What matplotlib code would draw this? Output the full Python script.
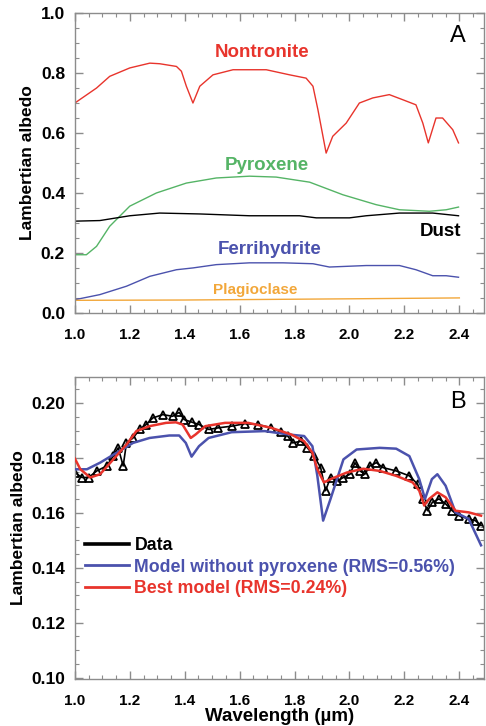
import matplotlib
matplotlib.use("Agg")
import matplotlib.pyplot as plt
from matplotlib.lines import Line2D
from matplotlib.ticker import MultipleLocator, FormatStrFormatter

plt.rcParams['font.family'] = ['Liberation Sans', 'DejaVu Sans']

# ---------------- Panel A: end-member spectra ----------------
nontronite_x = [1.0, 1.079, 1.127, 1.2, 1.273, 1.309, 1.37, 1.388, 1.406, 1.43, 1.455,
                1.503, 1.576, 1.697, 1.782, 1.842, 1.867, 1.885, 1.915, 1.939, 1.988,
                2.036, 2.085, 2.145, 2.194, 2.242, 2.267, 2.287, 2.315, 2.339, 2.376, 2.397]
nontronite_y = [0.70, 0.75, 0.789, 0.817, 0.833, 0.831, 0.822, 0.806, 0.756, 0.70, 0.756,
                0.794, 0.811, 0.811, 0.794, 0.783, 0.756, 0.678, 0.533, 0.589, 0.633,
                0.70, 0.717, 0.728, 0.711, 0.694, 0.633, 0.567, 0.65, 0.65, 0.611, 0.567]

pyroxene_x = [1.0, 1.042, 1.079, 1.127, 1.2, 1.297, 1.406, 1.515, 1.636, 1.733, 1.855,
              1.976, 2.097, 2.182, 2.291, 2.352, 2.397]
pyroxene_y = [0.194, 0.194, 0.222, 0.289, 0.356, 0.40, 0.433, 0.45, 0.456, 0.453, 0.436,
              0.394, 0.361, 0.344, 0.339, 0.344, 0.353]

dust_x = [1.0, 1.091, 1.2, 1.309, 1.455, 1.636, 1.818, 1.879, 2.0, 2.061, 2.182, 2.303, 2.397]
dust_y = [0.306, 0.308, 0.324, 0.333, 0.330, 0.324, 0.324, 0.317, 0.317, 0.324, 0.333, 0.333, 0.324]

ferri_x = [1.0, 1.091, 1.188, 1.273, 1.37, 1.43, 1.515, 1.636, 1.758, 1.867, 1.927,
           2.061, 2.182, 2.242, 2.303, 2.352, 2.397]
ferri_y = [0.044, 0.061, 0.089, 0.122, 0.144, 0.15, 0.161, 0.167, 0.167, 0.164, 0.153,
           0.158, 0.158, 0.144, 0.124, 0.124, 0.119]

plag_x = [1.0, 1.4, 1.7, 2.0, 2.4]
plag_y = [0.042, 0.043, 0.045, 0.047, 0.050]

# ---------------- Panel B: data and models ----------------
data_x = [1.0, 1.026, 1.05, 1.08, 1.116, 1.14, 1.158, 1.176, 1.188, 1.212, 1.236, 1.26,
          1.284, 1.32, 1.356, 1.38, 1.398, 1.428, 1.452, 1.488, 1.523, 1.571, 1.619,
          1.667, 1.715, 1.751, 1.775, 1.793, 1.823, 1.847, 1.871, 1.895, 1.913, 1.931,
          1.955, 1.978, 2.002, 2.02, 2.038, 2.056, 2.074, 2.098, 2.122, 2.17, 2.218,
          2.248, 2.266, 2.284, 2.302, 2.326, 2.35, 2.374, 2.398, 2.434, 2.458, 2.479]
data_y = [0.1747, 0.1729, 0.1729, 0.1753, 0.1771, 0.1807, 0.1837, 0.1771, 0.1855, 0.1873,
          0.1904, 0.1922, 0.1946, 0.1958, 0.1952, 0.1966, 0.1940, 0.1930, 0.1922, 0.1904,
          0.1910, 0.1916, 0.1925, 0.1922, 0.1910, 0.1894, 0.1880, 0.1855, 0.1861, 0.1837,
          0.1807, 0.1765, 0.1681, 0.1729, 0.1717, 0.1729, 0.1741, 0.1783, 0.1753, 0.1741,
          0.1771, 0.1783, 0.1765, 0.1753, 0.1735, 0.1705, 0.1651, 0.1608, 0.1639, 0.1651,
          0.1633, 0.1608, 0.1590, 0.1578, 0.1572, 0.1554]

nopyx_x = [1.0, 1.044, 1.092, 1.152, 1.212, 1.272, 1.344, 1.38, 1.404, 1.425, 1.452,
           1.487, 1.571, 1.691, 1.775, 1.835, 1.865, 1.883, 1.904, 1.931, 1.978, 1.99,
           2.026, 2.11, 2.17, 2.218, 2.254, 2.275, 2.30, 2.32, 2.35, 2.386, 2.434, 2.479]
nopyx_y = [0.1759, 0.1759, 0.1783, 0.1819, 0.1855, 0.1873, 0.1882, 0.1882, 0.1855, 0.1805,
           0.1843, 0.1873, 0.1894, 0.1898, 0.1886, 0.1880, 0.1843, 0.1735, 0.1572, 0.1651,
           0.1795, 0.1804, 0.1831, 0.1837, 0.1834, 0.1807, 0.1723, 0.1651, 0.1723, 0.1741,
           0.1699, 0.1602, 0.1578, 0.1482]

best_x = [1.0, 1.02, 1.056, 1.092, 1.14, 1.188, 1.224, 1.272, 1.332, 1.368, 1.392, 1.422,
          1.44, 1.475, 1.547, 1.631, 1.715, 1.787, 1.835, 1.865, 1.883, 1.907, 1.931,
          1.99, 2.05, 2.11, 2.17, 2.23, 2.254, 2.272, 2.29, 2.32, 2.35, 2.386, 2.434, 2.479]
best_y = [0.1798, 0.1759, 0.1729, 0.1741, 0.1795, 0.1849, 0.1898, 0.1916, 0.1928, 0.1930,
          0.1922, 0.1873, 0.1886, 0.1916, 0.1928, 0.1928, 0.1910, 0.1886, 0.1861, 0.1819,
          0.1759, 0.1711, 0.1723, 0.1747, 0.1761, 0.1753, 0.1735, 0.1711, 0.1681, 0.1627,
          0.1651, 0.1675, 0.1657, 0.1608, 0.1602, 0.1590]

legend_labels = ['Data', 'Model without pyroxene (RMS=0.56%)', 'Best model (RMS=0.24%)']

RED = '#e8342c'
GREEN = '#55b466'
BLUE = '#4b52ad'
ORANGE = '#f2a73a'
SPINE = '#8c8c8c'


def style_axes(ax, ymajor, yminor, yfmt):
    for s in ax.spines.values():
        s.set_color(SPINE)
        s.set_linewidth(1.0)
    ax.xaxis.set_major_locator(MultipleLocator(0.2))
    ax.xaxis.set_minor_locator(MultipleLocator(0.05))
    ax.yaxis.set_major_locator(MultipleLocator(ymajor))
    ax.yaxis.set_minor_locator(MultipleLocator(yminor))
    ax.xaxis.set_major_formatter(FormatStrFormatter('%.1f'))
    ax.yaxis.set_major_formatter(FormatStrFormatter(yfmt))
    ax.tick_params(which='both', direction='in', top=True, right=True, color=SPINE)
    ax.tick_params(which='major', length=6, width=1)
    ax.tick_params(which='minor', length=3, width=0.8)
    ax.tick_params(axis='y', labelsize=12.5, pad=7)
    ax.tick_params(axis='x', labelsize=11, pad=11)
    for lab in ax.get_xticklabels() + ax.get_yticklabels():
        lab.set_fontweight('bold')
    ax.set_ylabel('Lambertian albedo', fontsize=12.5, fontweight='bold')


fig = plt.figure(figsize=(4.86, 7.26), dpi=100)
axA = fig.add_axes([0.154, 0.569, 0.842, 0.413])
axB = fig.add_axes([0.154, 0.0647, 0.842, 0.416])

# Panel A
axA.plot(nontronite_x, nontronite_y, color=RED, lw=1.0)
axA.plot(pyroxene_x, pyroxene_y, color=GREEN, lw=1.0)
axA.plot(dust_x, dust_y, color='black', lw=1.0)
axA.plot(ferri_x, ferri_y, color=BLUE, lw=1.0)
axA.plot(plag_x, plag_y, color=ORANGE, lw=1.0)
axA.set_xlim(1.0, 2.49)
axA.set_ylim(0.0, 1.0)
style_axes(axA, 0.2, 0.05, '%.1f')
axA.text(1.68, 0.87, 'Nontronite', color=RED, fontsize=13.5, fontweight='bold', ha='center', va='center')
axA.text(1.70, 0.49, 'Pyroxene', color=GREEN, fontsize=13.5, fontweight='bold', ha='center', va='center')
axA.text(2.33, 0.27, 'Dust', color='black', fontsize=13.5, fontweight='bold', ha='center', va='center')
axA.text(1.71, 0.213, 'Ferrihydrite', color=BLUE, fontsize=13.5, fontweight='bold', ha='center', va='center')
axA.text(1.655, 0.077, 'Plagioclase', color=ORANGE, fontsize=11, fontweight='bold', ha='center', va='center')
axA.text(0.937, 0.923, 'A', transform=axA.transAxes, fontsize=17, ha='center', va='center')

# Panel B
axB.plot(data_x, data_y, color='black', lw=1.2, marker='^', markersize=6,
         markerfacecolor='none', markeredgecolor='black', markeredgewidth=1.3, zorder=2)
axB.plot(nopyx_x, nopyx_y, color=BLUE, lw=1.8, zorder=3)
axB.plot(best_x, best_y, color=RED, lw=1.8, zorder=4)
axB.set_xlim(1.0, 2.49)
axB.set_ylim(0.0995, 0.2095)
style_axes(axB, 0.02, 0.005, '%.2f')
axB.set_xlabel('Wavelength (\u00b5m)', fontsize=13.5, fontweight='bold', labelpad=0)
axB.text(0.937, 0.917, 'B', transform=axB.transAxes, fontsize=17, ha='center', va='center')

handles = [Line2D([], [], color='black', lw=2.6),
           Line2D([], [], color=BLUE, lw=2.0),
           Line2D([], [], color=RED, lw=2.0)]
axB.legend(handles, legend_labels, loc='upper left', bbox_to_anchor=(0.024, 0.47),
           frameon=False, borderpad=0, borderaxespad=0, handlelength=2.5,
           handletextpad=0.3, labelspacing=0.25,
           prop={'weight': 'bold', 'size': 12.8},
           labelcolor=['black', BLUE, RED])

fig.savefig('out.png', dpi=100)
